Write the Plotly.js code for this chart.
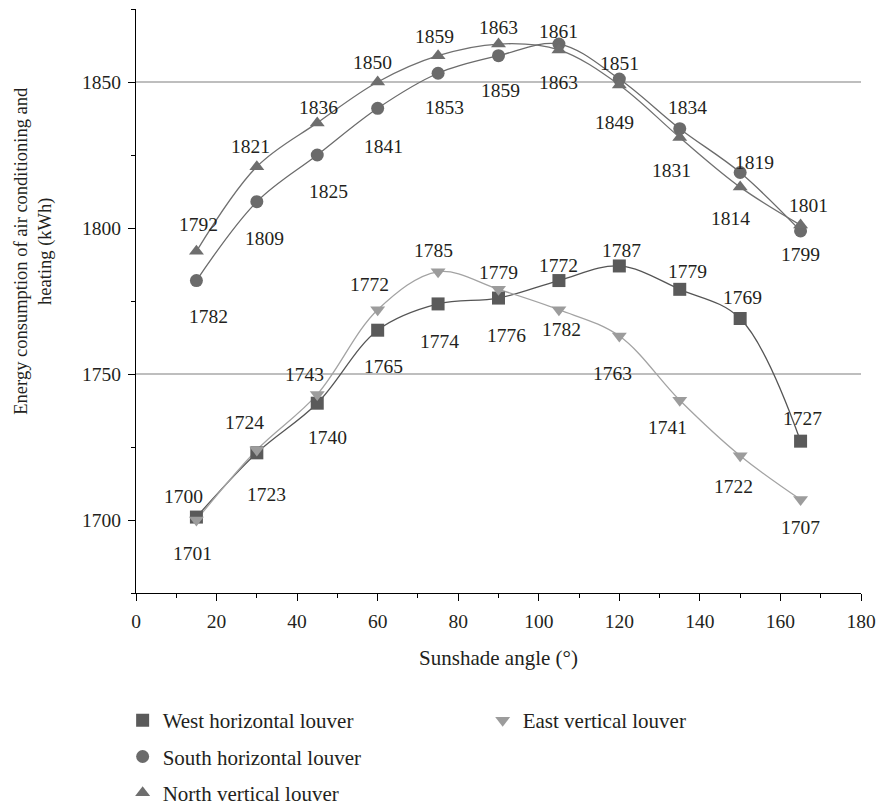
<!DOCTYPE html>
<html><head><meta charset="utf-8">
<script src="https://cdn.plot.ly/plotly-3.0.1.min.js"></script>
<style>html,body{margin:0;padding:0;background:#fff}#chart{width:876px;height:805px}</style>
</head><body><div id="chart"></div>
<script>
// ---- data ----
const angles = [15, 30, 45, 60, 75, 90, 105, 120, 135, 150, 165];
const westHorizontal  = [1701, 1723, 1740, 1765, 1774, 1776, 1782, 1787, 1779, 1769, 1727];
const southHorizontal = [1782, 1809, 1825, 1841, 1853, 1859, 1863, 1851, 1834, 1819, 1799];
const northVertical   = [1792, 1821, 1836, 1850, 1859, 1863, 1861, 1849, 1831, 1814, 1801];
const eastVertical    = [1700, 1724, 1743, 1772, 1785, 1779, 1772, 1763, 1741, 1722, 1707];
const seriesNames = ['West horizontal louver', 'South horizontal louver', 'North vertical louver', 'East vertical louver'];
const xAxisTitle = 'Sunshade angle (°)';
const yAxisTitle = 'Energy consumption of air conditioning and<br>heating (kWh)';
const gridLevels = [1750, 1850];

// ---- styles (label offsets in px, dy positive = downward) ----
const FONT = 'Liberation Serif, Times New Roman, serif';
const TXT = '#231f20';
const styles = [
  {data: westHorizontal, name: seriesNames[0], symbol: 'square', size: 13, mcolor: '#5a5a5a', lcolor: '#555555', legend: 'legend',
   dx: [-4, 10, 10, 6, 1, 8, 3, 2, 8, 2, 2], dy: [36, 42, 34, 36, 38, 37, 49, -15, -18, -21, -23]},
  {data: southHorizontal, name: seriesNames[1], symbol: 'circle', size: 13, mcolor: '#6b6b6b', lcolor: '#6b6b6b', legend: 'legend',
   dx: [12, 8, 11, 6, 6, 2, 0, 0, 8, 14, 0], dy: [36, 37, 36, 38, 34, 35, 38, -16, -21, -10, 24]},
  {data: northVertical, name: seriesNames[2], symbol: 'triangle-up', size: 13, mcolor: '#6e6e6e', lcolor: '#707070', legend: 'legend',
   dx: [2, -6, 1, -5, -4, 0, 0, -5, -8, -10, 8], dy: [-27, -20, -15, -20, -19, -17, -18, 38, 33, 31, -20]},
  {data: eastVertical, name: seriesNames[3], symbol: 'triangle-down', size: 13, mcolor: '#9c9c9c', lcolor: '#a3a3a3', legend: 'legend2',
   dx: [-13, -12, -13, -8, -5, 0, 0, -7, -12, -7, 0], dy: [-24, -27, -20, -25, -21, -17, -44, 37, 27, 31, 28]}
];

const traces = [];
styles.forEach(s => {
  traces.push({x: angles, y: s.data, type: 'scatter', mode: 'lines', showlegend: false, hoverinfo: 'skip',
    line: {shape: 'spline', smoothing: 1, color: s.lcolor, width: 1.3}});
});
styles.forEach((s, i) => {
  traces.push({x: angles, y: s.data, type: 'scatter', mode: 'markers', name: s.name, legend: s.legend,
    legendgroup: 'g' + i,
    marker: {symbol: s.symbol, size: s.size, color: s.mcolor, line: {width: 0}}});
});

const annotations = [];
styles.forEach(s => {
  s.data.forEach((v, k) => {
    annotations.push({x: angles[k], y: v, xref: 'x', yref: 'y', text: String(v), showarrow: false,
      xanchor: 'center', yanchor: 'middle', xshift: s.dx[k], yshift: -s.dy[k],
      font: {family: FONT, size: 19.5, color: TXT}});
  });
});
// y-axis title (two lines, rotated)
annotations.push({xref: 'paper', yref: 'paper', x: -0.1414, y: 0.587, xanchor: 'center', yanchor: 'middle',
  text: yAxisTitle, textangle: -90, showarrow: false, align: 'center',
  font: {family: FONT, size: 18.5, color: TXT}});

const shapes = gridLevels.map(g => ({type: 'line', xref: 'paper', yref: 'y', x0: 0, x1: 1, y0: g, y1: g,
  line: {color: '#a8a8a8', width: 1.3}, layer: 'below'}));

const layout = {
  width: 876, height: 805,
  margin: {l: 136, r: 15, t: 9, b: 212, autoexpand: false},
  paper_bgcolor: '#fff', plot_bgcolor: '#fff',
  font: {family: FONT, size: 19.5, color: TXT},
  showlegend: true,
  xaxis: {range: [0, 180], dtick: 20, tick0: 0, showgrid: false, zeroline: false, automargin: false,
    showline: true, linecolor: '#000', linewidth: 1, ticks: 'outside', ticklen: 7, tickcolor: '#000',
    minor: {dtick: 10, ticks: 'outside', ticklen: 4, tickcolor: '#000'},
    ticklabelstandoff: 4,
    tickfont: {family: FONT, size: 19.5, color: TXT},
    title: {text: xAxisTitle, font: {family: FONT, size: 21, color: TXT}, standoff: 18}},
  yaxis: {range: [1675, 1875], dtick: 50, tick0: 1700, showgrid: false, zeroline: false, automargin: false,
    showline: true, linecolor: '#000', linewidth: 1, ticks: 'outside', ticklen: 7, tickcolor: '#000',
    minor: {dtick: 25, ticks: 'outside', ticklen: 4, tickcolor: '#000'},
    ticklabelstandoff: 3,
    tickfont: {family: FONT, size: 19.5, color: TXT}},
  legend: {xref: 'container', yref: 'container', x: 0.140, y: 0.1304, xanchor: 'left', yanchor: 'top', orientation: 'v',
    tracegroupgap: 6, font: {family: FONT, size: 21, color: TXT}, bgcolor: 'rgba(0,0,0,0)'},
  legend2: {xref: 'container', yref: 'container', x: 0.551, y: 0.1304, xanchor: 'left', yanchor: 'top', orientation: 'v',
    font: {family: FONT, size: 21, color: TXT}, bgcolor: 'rgba(0,0,0,0)'},
  annotations: annotations,
  shapes: shapes
};

Plotly.newPlot('chart', traces, layout, {displayModeBar: false, staticPlot: true});
</script>
</body></html>
